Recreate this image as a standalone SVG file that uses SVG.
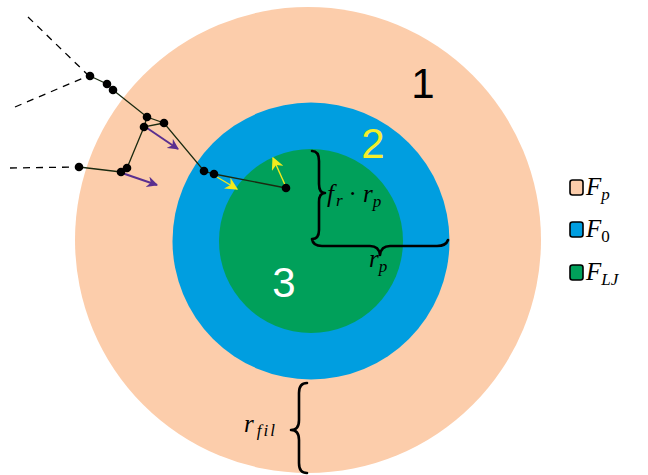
<svg xmlns="http://www.w3.org/2000/svg" width="648" height="475" viewBox="0 0 648 475">
<style>
.math{font-family:"Liberation Serif","DejaVu Serif",serif;font-style:italic;fill:#000}
.num{font-family:"Liberation Sans",Arial,sans-serif;font-size:42px}
.brace{fill:none;stroke:#000;stroke-width:2.6;stroke-linecap:round;stroke-linejoin:round}
.bond{stroke:#1a2a10;stroke-width:1.3;fill:none}
.dash{stroke:#000;stroke-width:1.3;stroke-dasharray:7,6;fill:none}
.bead{fill:#000}
.purple{stroke:#5a2f8f;stroke-width:2;fill:none}
.yellow{stroke:#f2ea1c;stroke-width:1.4;fill:none}
.leg{stroke:#000;stroke-width:1.6}
</style>
<defs>
<marker id="ap" viewBox="0 0 10 10" refX="9" refY="5" markerWidth="5.5" markerHeight="5.5" orient="auto" markerUnits="strokeWidth">
<path d="M0,0 L10,5 L0,10 L3,5 Z" fill="#5a2f8f"/>
</marker>
<marker id="ay" viewBox="0 0 10 10" refX="9" refY="5" markerWidth="9" markerHeight="9" orient="auto" markerUnits="strokeWidth">
<path d="M0,0 L10,5 L0,10 L3,5 Z" fill="#f2ea1c"/>
</marker>
</defs>

<g id="region1">
<circle cx="308" cy="240" r="233" fill="#fccdab"/>
<text class="num" x="423" y="98" text-anchor="middle" fill="#000">1</text>
</g>
<g id="region2">
<circle cx="311" cy="241" r="138.5" fill="#009ee0"/>
<text class="num" x="373" y="158" text-anchor="middle" fill="#f5ee2a">2</text>
</g>
<g id="region3">
<circle cx="311" cy="241" r="92" fill="#00a05a"/>
<text class="num" x="284" y="297" text-anchor="middle" fill="#ffffff">3</text>
</g>

<g id="connectors">
<path class="dash" d="M28,17 L88,75"/>
<path class="dash" d="M15,107 L88,76"/>
<path class="dash" d="M10,168 L79,167"/>
<path class="bond" d="M90,76 L107,84 L113,90 L147,117 L164,123 L204,171 L214,174 L286,188"/>
<path class="bond" d="M147,117 L144,127 L164,123"/>
<path class="bond" d="M144,127 L127,168 L121,172 L79,167"/>
<path class="purple" d="M147,128 L178,149" marker-end="url(#ap)"/>
<path class="purple" d="M122,173 L157,185" marker-end="url(#ap)"/>
<path class="yellow" d="M217,177 L237,189" marker-end="url(#ay)"/>
<path class="yellow" d="M286,187 L273,158" marker-end="url(#ay)"/>
</g>

<g id="chain">
<circle class="bead" cx="90" cy="76" r="4.3"/>
<circle class="bead" cx="107" cy="84" r="4.3"/>
<circle class="bead" cx="113" cy="90" r="4.3"/>
<circle class="bead" cx="147" cy="117" r="4.3"/>
<circle class="bead" cx="164" cy="123" r="4.3"/>
<circle class="bead" cx="144" cy="127" r="4.3"/>
<circle class="bead" cx="79" cy="167" r="4.3"/>
<circle class="bead" cx="121" cy="172" r="4.3"/>
<circle class="bead" cx="127" cy="168" r="4.3"/>
<circle class="bead" cx="204" cy="171" r="4.3"/>
<circle class="bead" cx="214" cy="174" r="4.3"/>
<circle class="bead" cx="286" cy="188" r="4.3"/>
</g>

<g id="brace-fr">
<path class="brace" d="M312,151 Q319,151 319,161 L319,184 Q319,193 325,193 Q319,193 319,202 L319,230 Q319,239 312,239 Q313,246 322,246 L370,246 Q379,246 380,255 Q381,246 390,246 L437,246 Q446,246 448,240"/>
<text class="math" x="327" y="202" font-size="25">f<tspan font-size="17" dy="4" dx="2">r</tspan><tspan dy="-4" dx="6" font-style="normal">·</tspan><tspan dx="6">r</tspan><tspan font-size="17" dy="5">p</tspan></text>
<text class="math" x="369" y="267" font-size="25">r<tspan font-size="17" dy="5">p</tspan></text>
</g>

<g id="brace-fil">
<path class="brace" d="M307,383 Q299,383 299,393 L299,420 Q299,430 291,430 Q299,430 299,440 L299,463 Q299,473 307,473"/>
<text class="math" x="244" y="432" font-size="25">r<tspan font-size="17" dy="4" dx="3" letter-spacing="2">fil</tspan></text>
</g>

<g id="legend">
<rect class="leg" x="570" y="180" width="13" height="15" rx="2.5" fill="#fccdab"/>
<text class="math" x="586" y="195" font-size="25">F<tspan font-size="17" dy="5">p</tspan></text>
<rect class="leg" x="570" y="222" width="13" height="15" rx="2.5" fill="#009ee0"/>
<text class="math" x="586" y="237" font-size="25">F<tspan font-size="17" dy="5" font-style="normal">0</tspan></text>
<rect class="leg" x="570" y="265" width="13" height="15" rx="2.5" fill="#00a05a"/>
<text class="math" x="586" y="280" font-size="25">F<tspan font-size="17" dy="5">LJ</tspan></text>
</g>
</svg>
